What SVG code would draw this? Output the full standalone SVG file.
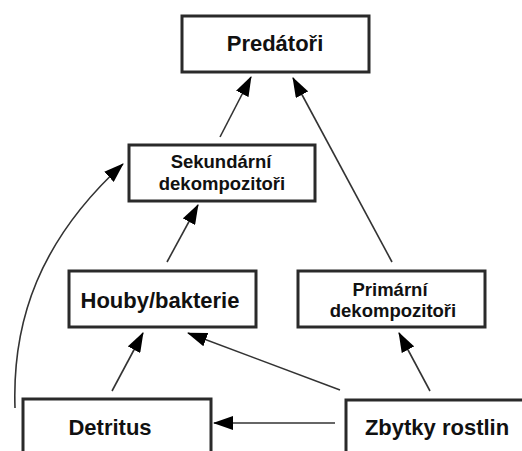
<svg xmlns="http://www.w3.org/2000/svg" width="522" height="451" viewBox="0 0 522 451">
<style>
.box{fill:#fff;stroke:#2a2a2a;stroke-width:3}
.t{font-family:"Liberation Sans",Arial,sans-serif;font-weight:bold;fill:#111;text-anchor:middle}
.big{font-size:22px}
.sm{font-size:18.5px}
.c{fill:none;stroke:#333;stroke-width:1.6;marker-end:url(#ah)}
</style>
<defs>
<marker id="ah" markerUnits="userSpaceOnUse" markerWidth="20" markerHeight="14" refX="19" refY="7" orient="auto">
<path d="M0,0 L20,7 L0,14 Z" fill="#000"/>
</marker>
</defs>
<rect width="522" height="451" fill="#fff"/>
<g id="connectors">
<line class="c" x1="220" y1="137" x2="251" y2="77"/>
<line class="c" x1="392" y1="262" x2="293" y2="78"/>
<line class="c" x1="167" y1="262" x2="198" y2="205"/>
<line class="c" x1="112" y1="391" x2="143" y2="333"/>
<line class="c" x1="340" y1="390" x2="188" y2="333"/>
<line class="c" x1="430" y1="391" x2="399" y2="333"/>
<line class="c" x1="335" y1="423" x2="214" y2="423"/>
<path class="c" d="M15,408 C12,320 40,240 123,164"/>
</g>
<g id="predatori">
<rect class="box" x="182" y="16" width="187" height="56"/>
<text class="t big" x="275" y="51">Predátoři</text>
</g>
<g id="sekundarni">
<rect class="box" x="129" y="145" width="186" height="56"/>
<text class="t sm" x="221" y="168">Sekundární</text>
<text class="t sm" x="222" y="190">dekompozitoři</text>
</g>
<g id="houby">
<rect class="box" x="69" y="271" width="187" height="56"/>
<text class="t big" x="160" y="308">Houby/bakterie</text>
</g>
<g id="primarni">
<rect class="box" x="298" y="271" width="187" height="56"/>
<text class="t sm" x="390" y="296">Primární</text>
<text class="t sm" x="393" y="317">dekompozitoři</text>
</g>
<g id="detritus">
<rect class="box" x="23" y="399" width="188" height="70"/>
<text class="t big" x="110" y="435">Detritus</text>
</g>
<g id="zbytky">
<rect class="box" x="346" y="400" width="200" height="70"/>
<text class="t big" x="437" y="435">Zbytky rostlin</text>
</g>
</svg>
